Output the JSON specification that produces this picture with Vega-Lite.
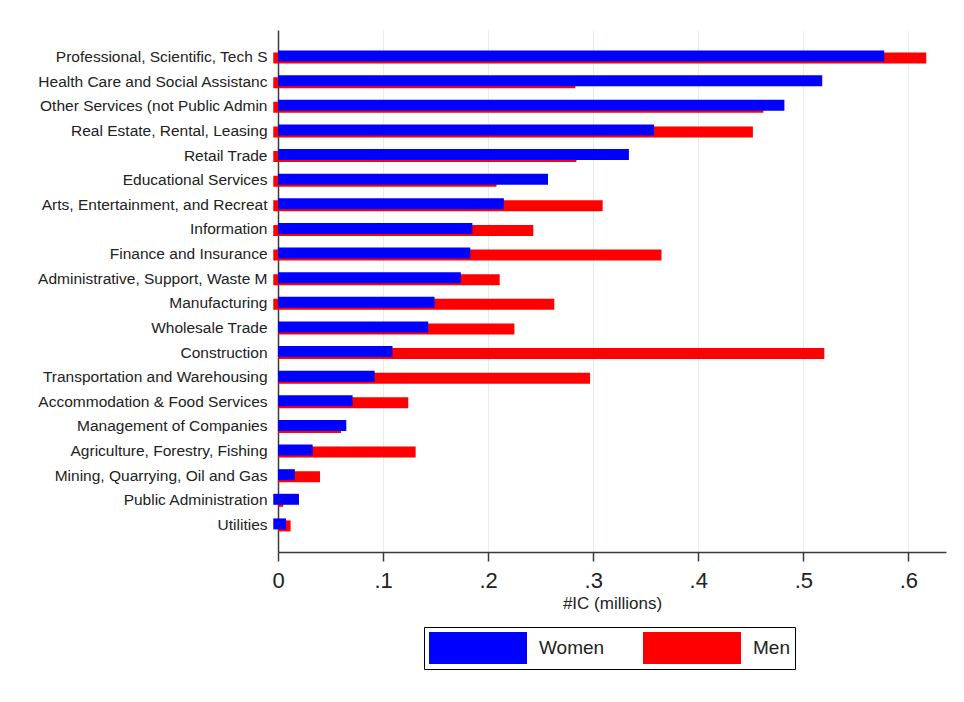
{
  "$schema": "https://vega.github.io/schema/vega-lite/v6.json",
  "width": 668,
  "height": 522,
  "autosize": {"type": "none"},
  "padding": {"left": 278, "top": 30, "right": 18, "bottom": 150},
  "background": "white",
  "data": {
    "values": [
      {"industry": "Professional, Scientific, Tech S", "sex": "Men", "start": -0.0045, "value": 0.617},
      {"industry": "Professional, Scientific, Tech S", "sex": "Women", "start": 0, "value": 0.577},
      {"industry": "Health Care and Social Assistanc", "sex": "Men", "start": -0.0045, "value": 0.283},
      {"industry": "Health Care and Social Assistanc", "sex": "Women", "start": 0, "value": 0.518},
      {"industry": "Other Services (not Public Admin", "sex": "Men", "start": -0.0045, "value": 0.462},
      {"industry": "Other Services (not Public Admin", "sex": "Women", "start": 0, "value": 0.482},
      {"industry": "Real Estate, Rental, Leasing", "sex": "Men", "start": -0.0045, "value": 0.452},
      {"industry": "Real Estate, Rental, Leasing", "sex": "Women", "start": 0, "value": 0.358},
      {"industry": "Retail Trade", "sex": "Men", "start": -0.0045, "value": 0.284},
      {"industry": "Retail Trade", "sex": "Women", "start": 0, "value": 0.334},
      {"industry": "Educational Services", "sex": "Men", "start": -0.0045, "value": 0.208},
      {"industry": "Educational Services", "sex": "Women", "start": 0, "value": 0.257},
      {"industry": "Arts, Entertainment, and Recreat", "sex": "Men", "start": -0.0045, "value": 0.309},
      {"industry": "Arts, Entertainment, and Recreat", "sex": "Women", "start": 0, "value": 0.215},
      {"industry": "Information", "sex": "Men", "start": -0.0045, "value": 0.243},
      {"industry": "Information", "sex": "Women", "start": 0, "value": 0.185},
      {"industry": "Finance and Insurance", "sex": "Men", "start": -0.0045, "value": 0.365},
      {"industry": "Finance and Insurance", "sex": "Women", "start": 0, "value": 0.183},
      {"industry": "Administrative, Support, Waste M", "sex": "Men", "start": -0.0045, "value": 0.211},
      {"industry": "Administrative, Support, Waste M", "sex": "Women", "start": 0, "value": 0.174},
      {"industry": "Manufacturing", "sex": "Men", "start": -0.0045, "value": 0.263},
      {"industry": "Manufacturing", "sex": "Women", "start": 0, "value": 0.149},
      {"industry": "Wholesale Trade", "sex": "Men", "start": 0, "value": 0.225},
      {"industry": "Wholesale Trade", "sex": "Women", "start": 0, "value": 0.143},
      {"industry": "Construction", "sex": "Men", "start": 0, "value": 0.52},
      {"industry": "Construction", "sex": "Women", "start": 0, "value": 0.109},
      {"industry": "Transportation and Warehousing", "sex": "Men", "start": 0, "value": 0.297},
      {"industry": "Transportation and Warehousing", "sex": "Women", "start": 0, "value": 0.092},
      {"industry": "Accommodation & Food Services", "sex": "Men", "start": 0, "value": 0.124},
      {"industry": "Accommodation & Food Services", "sex": "Women", "start": 0, "value": 0.071},
      {"industry": "Management of Companies", "sex": "Men", "start": 0, "value": 0.06},
      {"industry": "Management of Companies", "sex": "Women", "start": 0, "value": 0.065},
      {"industry": "Agriculture, Forestry, Fishing", "sex": "Men", "start": 0, "value": 0.131},
      {"industry": "Agriculture, Forestry, Fishing", "sex": "Women", "start": 0, "value": 0.033},
      {"industry": "Mining, Quarrying, Oil and Gas", "sex": "Men", "start": 0, "value": 0.04},
      {"industry": "Mining, Quarrying, Oil and Gas", "sex": "Women", "start": 0, "value": 0.016},
      {"industry": "Public Administration", "sex": "Men", "start": 0, "value": 0.005},
      {"industry": "Public Administration", "sex": "Women", "start": -0.0045, "value": 0.02},
      {"industry": "Utilities", "sex": "Men", "start": 0, "value": 0.012},
      {"industry": "Utilities", "sex": "Women", "start": -0.0045, "value": 0.0076}
    ]
  },
  "encoding": {
    "y": {
      "field": "industry",
      "type": "nominal",
      "sort": [
        "Professional, Scientific, Tech S",
        "Health Care and Social Assistanc",
        "Other Services (not Public Admin",
        "Real Estate, Rental, Leasing",
        "Retail Trade",
        "Educational Services",
        "Arts, Entertainment, and Recreat",
        "Information",
        "Finance and Insurance",
        "Administrative, Support, Waste M",
        "Manufacturing",
        "Wholesale Trade",
        "Construction",
        "Transportation and Warehousing",
        "Accommodation & Food Services",
        "Management of Companies",
        "Agriculture, Forestry, Fishing",
        "Mining, Quarrying, Oil and Gas",
        "Public Administration",
        "Utilities"
      ],
      "scale": {"paddingInner": 0, "paddingOuter": 0.6},
      "axis": {
        "title": null,
        "ticks": false,
        "labelPadding": 11,
        "labelFontSize": 15.5,
        "labelLimit": 300,
        "labelColor": "#222222",
        "domainColor": "#3a3a3a",
        "domainWidth": 1.5
      }
    },
    "x": {
      "field": "start",
      "type": "quantitative",
      "scale": {"domain": [0, 0.6358], "nice": false, "zero": false},
      "axis": {
        "title": "#IC (millions)",
        "values": [0, 0.1, 0.2, 0.3, 0.4, 0.5, 0.6],
        "labelExpr": "datum.value == 0 ? '0' : substring(format(datum.value, '.1f'), 1)",
        "labelFlush": false,
        "labelFontSize": 22,
        "labelColor": "#222222",
        "labelPadding": 9,
        "tickSize": 9,
        "tickColor": "#3a3a3a",
        "tickWidth": 1.5,
        "domainColor": "#3a3a3a",
        "domainWidth": 1.5,
        "grid": true,
        "gridColor": "#e4eef1",
        "gridWidth": 1,
        "titleFontSize": 17,
        "titleFontWeight": "normal",
        "titleColor": "#222222",
        "titlePadding": 4
      }
    },
    "x2": {"field": "value"},
    "color": {
      "field": "sex",
      "type": "nominal",
      "scale": {"domain": ["Women", "Men"], "range": ["#0000ff", "#ff0000"]},
      "legend": {
        "title": null,
        "orient": "none",
        "direction": "horizontal",
        "legendX": 146,
        "legendY": 597,
        "padding": 5,
        "strokeColor": "#000000",
        "symbolType": "M-1,-1H5.125V1H-1Z",
        "symbolSize": 1024,
        "symbolStrokeWidth": 0,
        "symbolOpacity": 1,
        "labelOffset": 78,
        "labelFontSize": 19,
        "labelColor": "#222222",
        "columnPadding": 38
      }
    }
  },
  "layer": [
    {
      "transform": [{"filter": "datum.sex == 'Men'"}],
      "mark": {"type": "bar", "height": 11, "yOffset": 1}
    },
    {
      "transform": [{"filter": "datum.sex == 'Women'"}],
      "mark": {"type": "bar", "height": 11, "yOffset": -1}
    }
  ],
  "config": {
    "font": "Liberation Sans",
    "view": {"stroke": null}
  }
}
